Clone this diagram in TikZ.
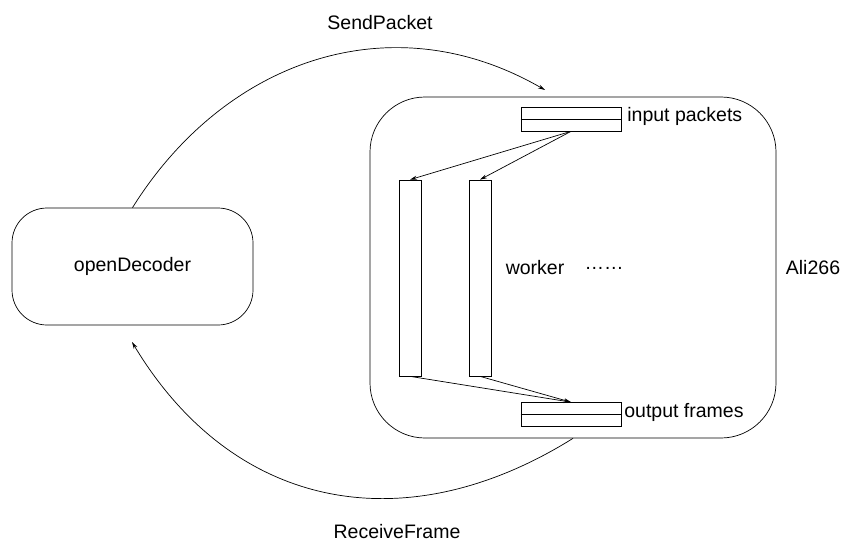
\documentclass[tikz,border=0pt]{standalone}
\usepackage{fontspec}
\setmainfont{Liberation Sans}
\usetikzlibrary{arrows.meta}

\begin{document}
\begin{tikzpicture}[x=1pt,y=1pt,
    font=\fontsize{19.5}{23}\selectfont,
    line width=0.7pt,
    arr/.style={-{Stealth[length=7pt,width=4pt]}},
    buffer/.style={draw, minimum width=100pt, minimum height=24pt, inner sep=0pt},
    bar/.style={draw, minimum width=22pt, minimum height=196pt, inner sep=0pt}]
    \useasboundingbox (0,0) rectangle (858,558);

    % decoder on the left
    \node[draw, rounded corners=35pt, minimum width=241pt, minimum height=117pt] (dec) at (132.5,291.5) {openDecoder};

    % Ali266 box
    \node[draw, rounded corners=55pt, minimum width=406pt, minimum height=341pt] (ali) at (573,290.5) {};
    \node (alilbl) at (813,290) {Ali266};

    % queues
    \node[buffer] (inbuf) at (571,439) {};
    \draw (inbuf.west) -- (inbuf.east);
    \node[anchor=west, inner sep=0pt] (inlbl) at (627,442) {input packets};

    \node[buffer] (outbuf) at (571,143.5) {};
    \draw (outbuf.west) -- (outbuf.east);
    \node[anchor=west, inner sep=0pt] (outlbl) at (624,146) {output frames};

    % workers
    \node[bar] (w1) at (410,280) {};
    \node[bar] (w2) at (480,280) {};
    \node (wlbl) at (535,290) {worker};
    \node (dots) at (604,290) {……};

    \draw[arr] (inbuf.south) -- (w1.north);
    \draw[arr] (inbuf.south) -- (w2.north);
    \draw[arr] (w1.south) -- (outbuf.north);
    \draw[arr] (w2.south) -- (outbuf.north);

    % calls between decoder and Ali266
    \coordinate (sendend) at (545,468);
    \coordinate (recvend) at (132,216);
    \draw[arr] (dec.north) to[out=58, in=150, looseness=1.05] (sendend);
    \draw[arr] (ali.south) to[out=212, in=-59, looseness=1.12] (recvend);
    \node (sendlbl) at (380,535) {SendPacket};
    \node (recvlbl) at (397,26) {ReceiveFrame};
\end{tikzpicture}
\end{document}
